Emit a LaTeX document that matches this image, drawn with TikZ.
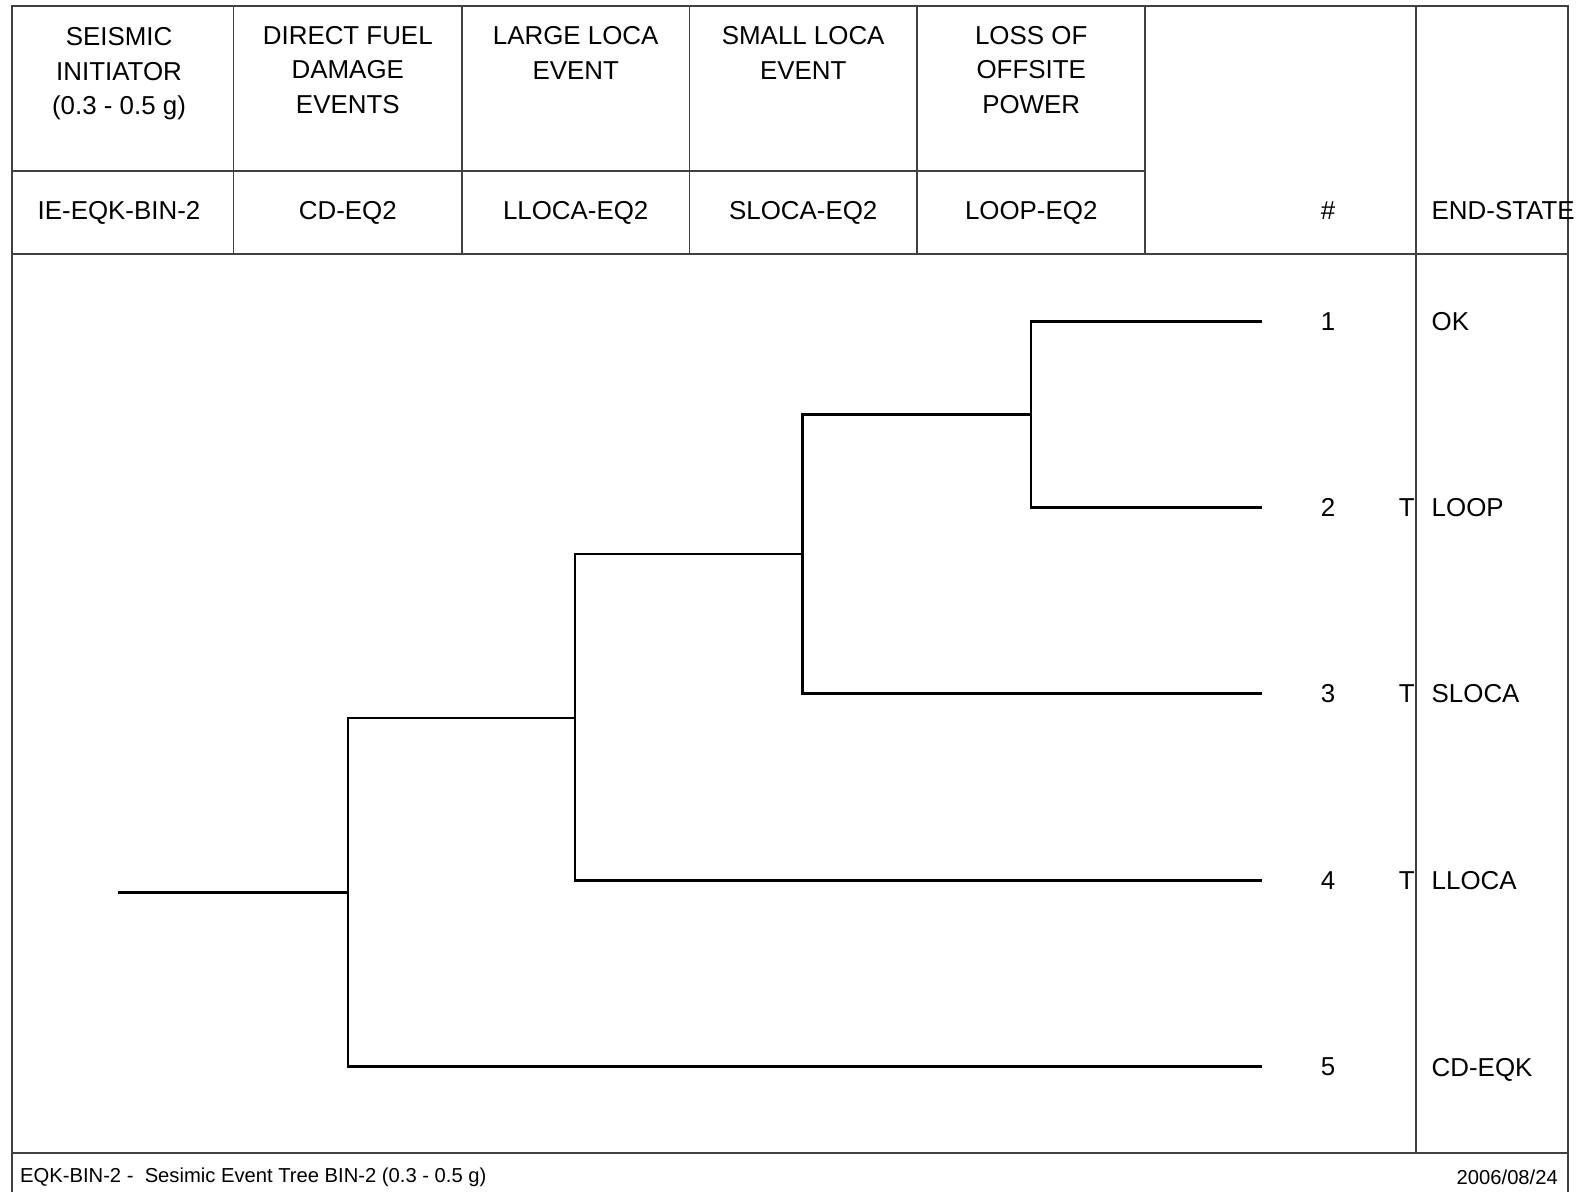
\documentclass[tikz,border=0pt]{standalone}
\usepackage{fontspec}
\setmainfont{Liberation Sans}
\begin{document}
\begin{tikzpicture}[x=1pt,y=-1pt,
  frame/.style={draw=black!75,line width=1.2pt},
  branch/.style={draw=black,line width=2.5pt,line cap=rect},
  hdr/.style={font=\fontsize{25.9}{34.4}\selectfont,align=center,inner sep=0pt},
  lbl/.style={font=\fontsize{25.9}{30}\selectfont,inner sep=0pt},
  foot/.style={font=\fontsize{20.2}{24}\selectfont,inner sep=0pt}]
\useasboundingbox (0,0) rectangle (1585,1192);
% frame
\draw[frame] (12,1192) -- (12,6) -- (1568,6) -- (1568,1192);
\draw[frame] (12,254) -- (1568,254);
\draw[frame] (12,171) -- (1145,171);
\draw[frame] (12,1153) -- (1568,1153);
\foreach \x in {233.5,462,689.5,917,1145}{\draw[frame] (\x,6) -- (\x,254);}
\draw[frame] (1416,6) -- (1416,1153);
% headers
\node[hdr] (h1) at (119,74) {SEISMIC\\INITIATOR\\(0.3 - 0.5 g)};
\node[hdr] (h2) at (347.8,70) {DIRECT FUEL\\DAMAGE\\EVENTS};
\node[hdr] (h3) at (575.7,53) {LARGE LOCA\\EVENT};
\node[hdr] (h4) at (803.2,53) {SMALL LOCA\\EVENT};
\node[hdr] (h5) at (1031.2,70) {LOSS OF\\OFFSITE\\POWER};
\node[hdr] (c1) at (119,213) {IE-EQK-BIN-2};
\node[hdr] (c2) at (347.8,213) {CD-EQ2};
\node[hdr] (c3) at (575.7,213) {LLOCA-EQ2};
\node[hdr] (c4) at (803.2,213) {SLOCA-EQ2};
\node[hdr] (c5) at (1031.2,213) {LOOP-EQ2};
\node[hdr] (hn) at (1328,211) {\#};
\node[hdr,anchor=west] (hs) at (1431.5,211) {END-STATE};
% tree coordinates
\coordinate (s) at (119.3,892.6);
\coordinate (a) at (347.8,892.6);
\coordinate (aU) at (347.8,717.8);
\coordinate (aD) at (347.8,1066.5);
\coordinate (b) at (575.2,717.8);
\coordinate (bU) at (575.2,554);
\coordinate (bD) at (575.2,880.5);
\coordinate (c) at (802.7,554);
\coordinate (cU) at (802.7,414.5);
\coordinate (cD) at (802.7,693.5);
\coordinate (d) at (1031.1,414.5);
\coordinate (dU) at (1031.1,321.5);
\coordinate (dD) at (1031.1,507.5);
\coordinate (e1) at (1260.6,321.5);
\coordinate (e2) at (1260.6,507.5);
\coordinate (e3) at (1260.6,693.5);
\coordinate (e4) at (1260.6,880.5);
\coordinate (e5) at (1260.6,1066.5);
\draw[branch] (s) -- (a);
\draw[branch] (aU) -- (aD);
\draw[branch] (aU) -- (b);
\draw[branch] (aD) -- (e5);
\draw[branch] (bU) -- (bD);
\draw[branch] (bU) -- (c);
\draw[branch] (bD) -- (e4);
\draw[branch] (cU) -- (cD);
\draw[branch] (cU) -- (d);
\draw[branch] (cD) -- (e3);
\draw[branch] (dU) -- (dD);
\draw[branch] (dU) -- (e1);
\draw[branch] (dD) -- (e2);
% sequence numbers and end states
\node[lbl] (n1) at (1328,321.5) {1};
\node[lbl] (n2) at (1328,507.5) {2};
\node[lbl] (n3) at (1328,693.5) {3};
\node[lbl] (n4) at (1328,880.5) {4};
\node[lbl] (n5) at (1328,1066.5) {5};
\node[lbl,anchor=east] (t2) at (1415,507.5) {T};
\node[lbl,anchor=east] (t3) at (1415,693.5) {T};
\node[lbl,anchor=east] (t4) at (1415,880.5) {T};
\node[lbl,anchor=west] (s1) at (1431.5,321.5) {OK};
\node[lbl,anchor=west] (s2) at (1431.5,507.5) {LOOP};
\node[lbl,anchor=west] (s3) at (1431.5,693.5) {SLOCA};
\node[lbl,anchor=west] (s4) at (1431.5,880.5) {LLOCA};
\node[lbl,anchor=west] (s5) at (1431.5,1069.5) {CD-EQK};
% footer
\node[foot,anchor=west] (f1) at (20,1177) {EQK-BIN-2 -\ \ Sesimic Event Tree BIN-2 (0.3 - 0.5 g)};
\node[foot,anchor=east] (f2) at (1558,1177) {2006/08/24};
\end{tikzpicture}
\end{document}
